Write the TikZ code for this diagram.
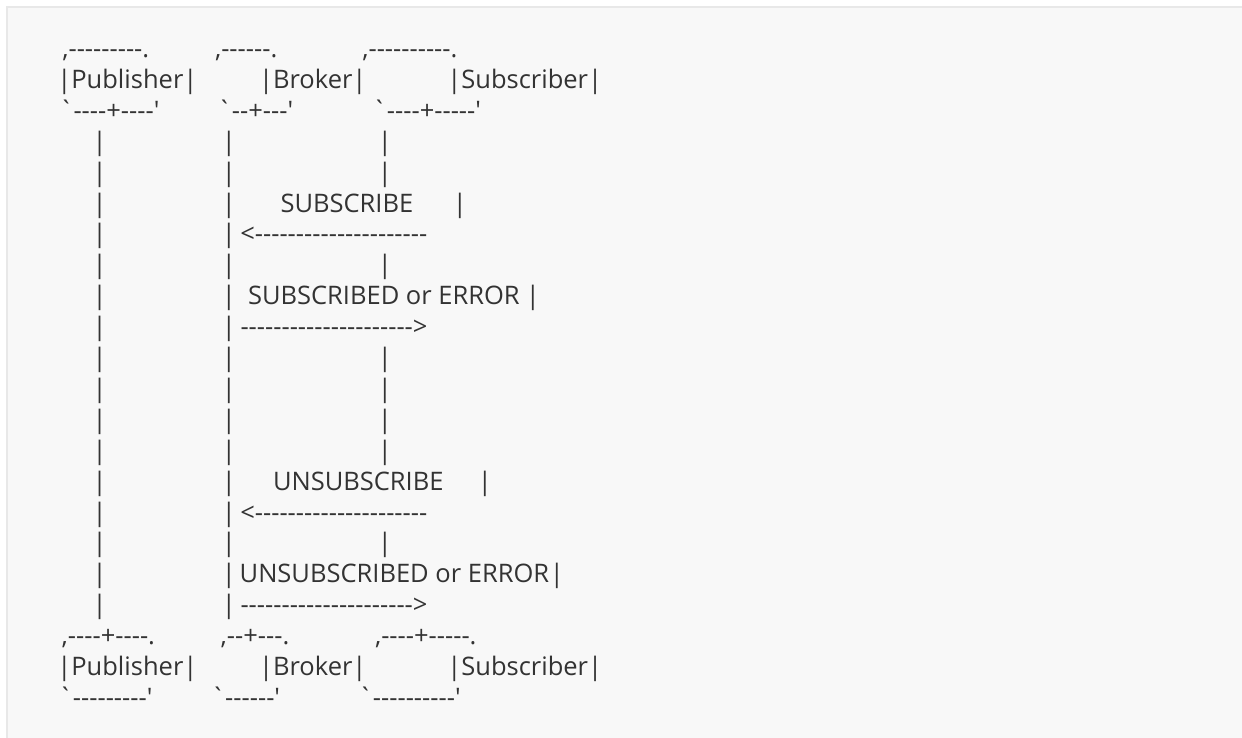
\documentclass[tikz,border=0pt]{standalone}
\usepackage{fontspec}
\usepackage{tikz}
\setmainfont{Open Sans}[Ligatures=TeXOff]
\definecolor{panel-gray}{HTML}{F8F8F8}
\definecolor{panel-line}{HTML}{E8E8E8}
\definecolor{text-gray}{HTML}{333333}

\tikzset{
  ascii/.style={anchor=base west, inner sep=0pt, outer sep=0pt, text=text-gray, font=\fontsize{12.75}{15}\selectfont},
  bar/.style={ascii, anchor=base},
}

\begin{document}
\begin{tikzpicture}[x=0.5pt, y=-0.5pt]
		% Draw the background panel
		\useasboundingbox (0,0) rectangle (1242,738);
		\fill[panel-gray] (7,7) rectangle (1250,745);
		\draw[panel-line, line width=1pt] (7,745) -- (7,7) -- (1250,7);
		
		% Draw the top boxes
		\node (pubcap) [ascii] at (62.3,57.5) {,---------.};
		\node (brokercap) [ascii] at (215,57.5) {,------.};
		\node (subcap) [ascii] at (362.3,57.5) {,----------.};
		\node (pubname) [ascii] at (57.3,88.4) {|Publisher|};
		\node (brokername) [ascii] at (259,88.4) {|Broker|};
		\node (subname) [ascii] at (447.3,88.4) {|Subscriber|};
		\node (pubbase) [ascii] at (58.8,119.3) {`----+----'};
		\node (brokerbase) [ascii] at (217.2,119.3) {`--+---'};
		\node (subbase) [ascii] at (372.2,119.3) {`----+-----'};
		
		% Draw the lifelines
		\foreach \row in {4,...,19} {
			\node (publine\row) [bar] at (99.7,{57.5+30.9*(\row-1)}) {|};
			\node (brokerline\row) [bar] at (229,{57.5+30.9*(\row-1)}) {|};
		}
		\foreach \row in {4,5,8,11,12,13,14,17} {
			\node (subline\row) [bar] at (385,{57.5+30.9*(\row-1)}) {|};
		}
		
		% Draw the subscribe messages
		\node (subscribe) [ascii] at (280.5,212.0) {SUBSCRIBE};
		\node (subscribebar) [bar] at (460,212.0) {|};
		\node (subscribearrow) [ascii] at (240.3,242.9) {<---------------------};
		\node (subscribed) [ascii] at (248,304.7) {SUBSCRIBED or ERROR};
		\node (subscribedbar) [bar] at (533,304.7) {|};
		\node (subscribedarrow) [ascii] at (240.5,335.6) {--------------------->};
		
		% Draw the unsubscribe messages
		\node (unsubscribe) [ascii] at (273,490.1) {UNSUBSCRIBE};
		\node (unsubscribebar) [bar] at (485,490.1) {|};
		\node (unsubscribearrow) [ascii] at (240.3,521.0) {<---------------------};
		\node (unsubscribed) [ascii] at (239.7,582.8) {UNSUBSCRIBED or ERROR};
		\node (unsubscribedbar) [bar] at (557,582.8) {|};
		\node (unsubscribedarrow) [ascii] at (240.5,613.7) {--------------------->};
		
		% Draw the bottom boxes
		\node (pubcap2) [ascii] at (61.7,644.6) {,----+----.};
		\node (brokercap2) [ascii] at (220.7,644.6) {,--+---.};
		\node (subcap2) [ascii] at (375,644.6) {,----+-----.};
		\node (pubname2) [ascii] at (57.3,675.5) {|Publisher|};
		\node (brokername2) [ascii] at (259,675.5) {|Broker|};
		\node (subname2) [ascii] at (447.3,675.5) {|Subscriber|};
		\node (pubbase2) [ascii] at (58.2,706.4) {`---------'};
		\node (brokerbase2) [ascii] at (210.5,706.4) {`------'};
		\node (subbase2) [ascii] at (358.2,706.4) {`----------'};
\end{tikzpicture}
\end{document}
